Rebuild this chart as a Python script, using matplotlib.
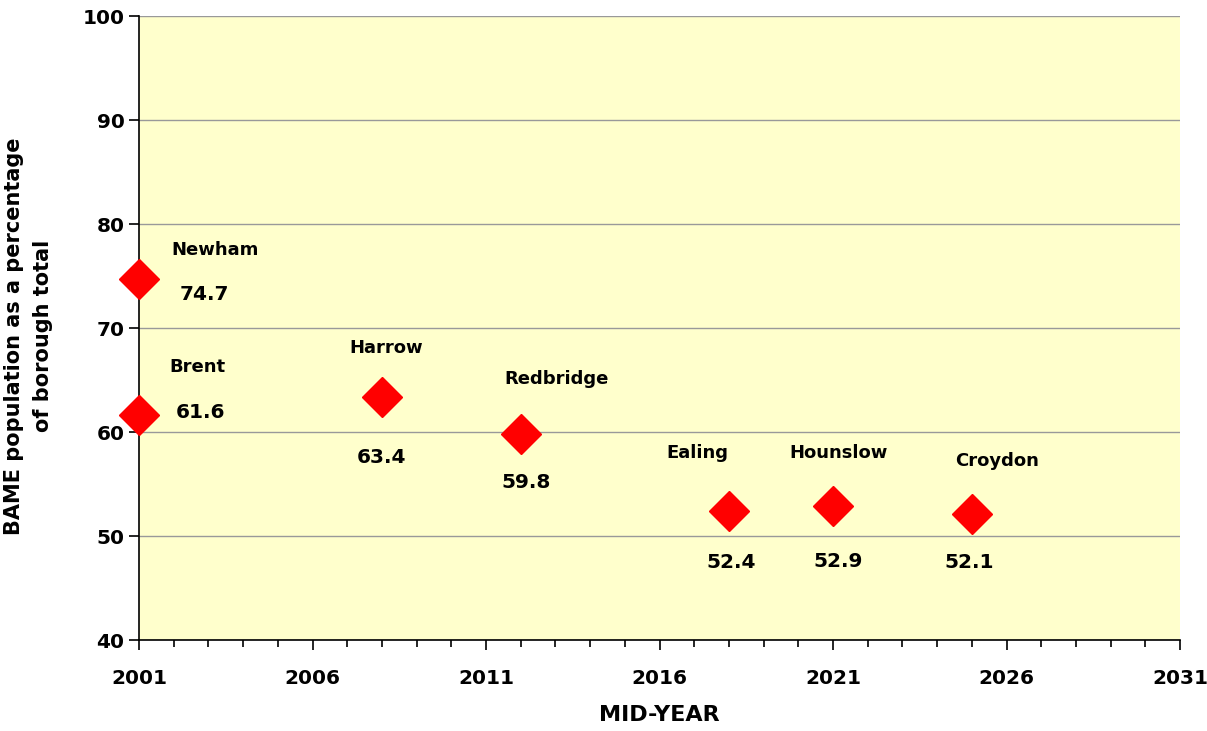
import matplotlib.pyplot as plt
from matplotlib.ticker import MultipleLocator

boroughs = ["Newham", "Brent", "Harrow", "Redbridge", "Ealing", "Hounslow", "Croydon"]
years = [2001, 2001, 2008, 2012, 2018, 2021, 2025]
bame_pct = [74.7, 61.6, 63.4, 59.8, 52.4, 52.9, 52.1]
x_ticks = [2001, 2006, 2011, 2016, 2021, 2026, 2031]

# label offsets in points: (name dx, name dy, value dx, value dy)
offsets = [(55, 21, 47, -11), (42, 35, 44, 2), (3, 35, 0, -44), (26, 40, 4, -35),
           (-23, 42, 2, -37), (4, 38, 4, -40), (18, 38, -2, -35)]

plt.rcParams['font.family'] = ['DejaVu Sans']
plt.rcParams['font.weight'] = 'bold'

fig = plt.figure(figsize=(12.07, 7.31), dpi=100)
ax = fig.add_axes([139 / 1207, 91 / 731, 1041 / 1207, 624 / 731])
ax.set_facecolor('#FFFFCC')

ax.plot(years, bame_pct, linestyle='none', marker='D', markersize=20,
        color='#FF0000', clip_on=False, zorder=3)

for name, x, y, off in zip(boroughs, years, bame_pct, offsets):
    ax.annotate(name, (x, y), xytext=(off[0], off[1]), textcoords='offset points',
                ha='center', va='center', fontsize=13, fontweight='bold')
    ax.annotate(f"{y:.1f}", (x, y), xytext=(off[2], off[3]), textcoords='offset points',
                ha='center', va='center', fontsize=14.5, fontweight='bold')

ax.set_xlim(2001, 2031)
ax.set_ylim(40, 100)
ax.set_xticks(x_ticks)
ax.xaxis.set_minor_locator(MultipleLocator(1))
ax.yaxis.set_major_locator(MultipleLocator(10))
ax.yaxis.grid(True, color='#999999', linewidth=1)
ax.set_axisbelow(True)

for s in ['top', 'right']:
    ax.spines[s].set_visible(False)
ax.spines['left'].set_linewidth(1.2)
ax.spines['bottom'].set_linewidth(1.2)

ax.tick_params(axis='both', which='major', labelsize=14.5, length=7, width=1.2, direction='out')
ax.tick_params(axis='x', which='minor', length=5, width=1.2)
ax.tick_params(axis='x', pad=14)
for lbl in ax.get_xticklabels() + ax.get_yticklabels():
    lbl.set_fontweight('bold')

ax.set_xlabel("MID-YEAR", fontsize=16, fontweight='bold', labelpad=12)
ax.set_ylabel("BAME population as a percentage\nof borough total", fontsize=15,
              fontweight='bold', linespacing=1.55)
ax.yaxis.set_label_coords(-0.083, 0.487)

fig.savefig("out.png", dpi=100)
